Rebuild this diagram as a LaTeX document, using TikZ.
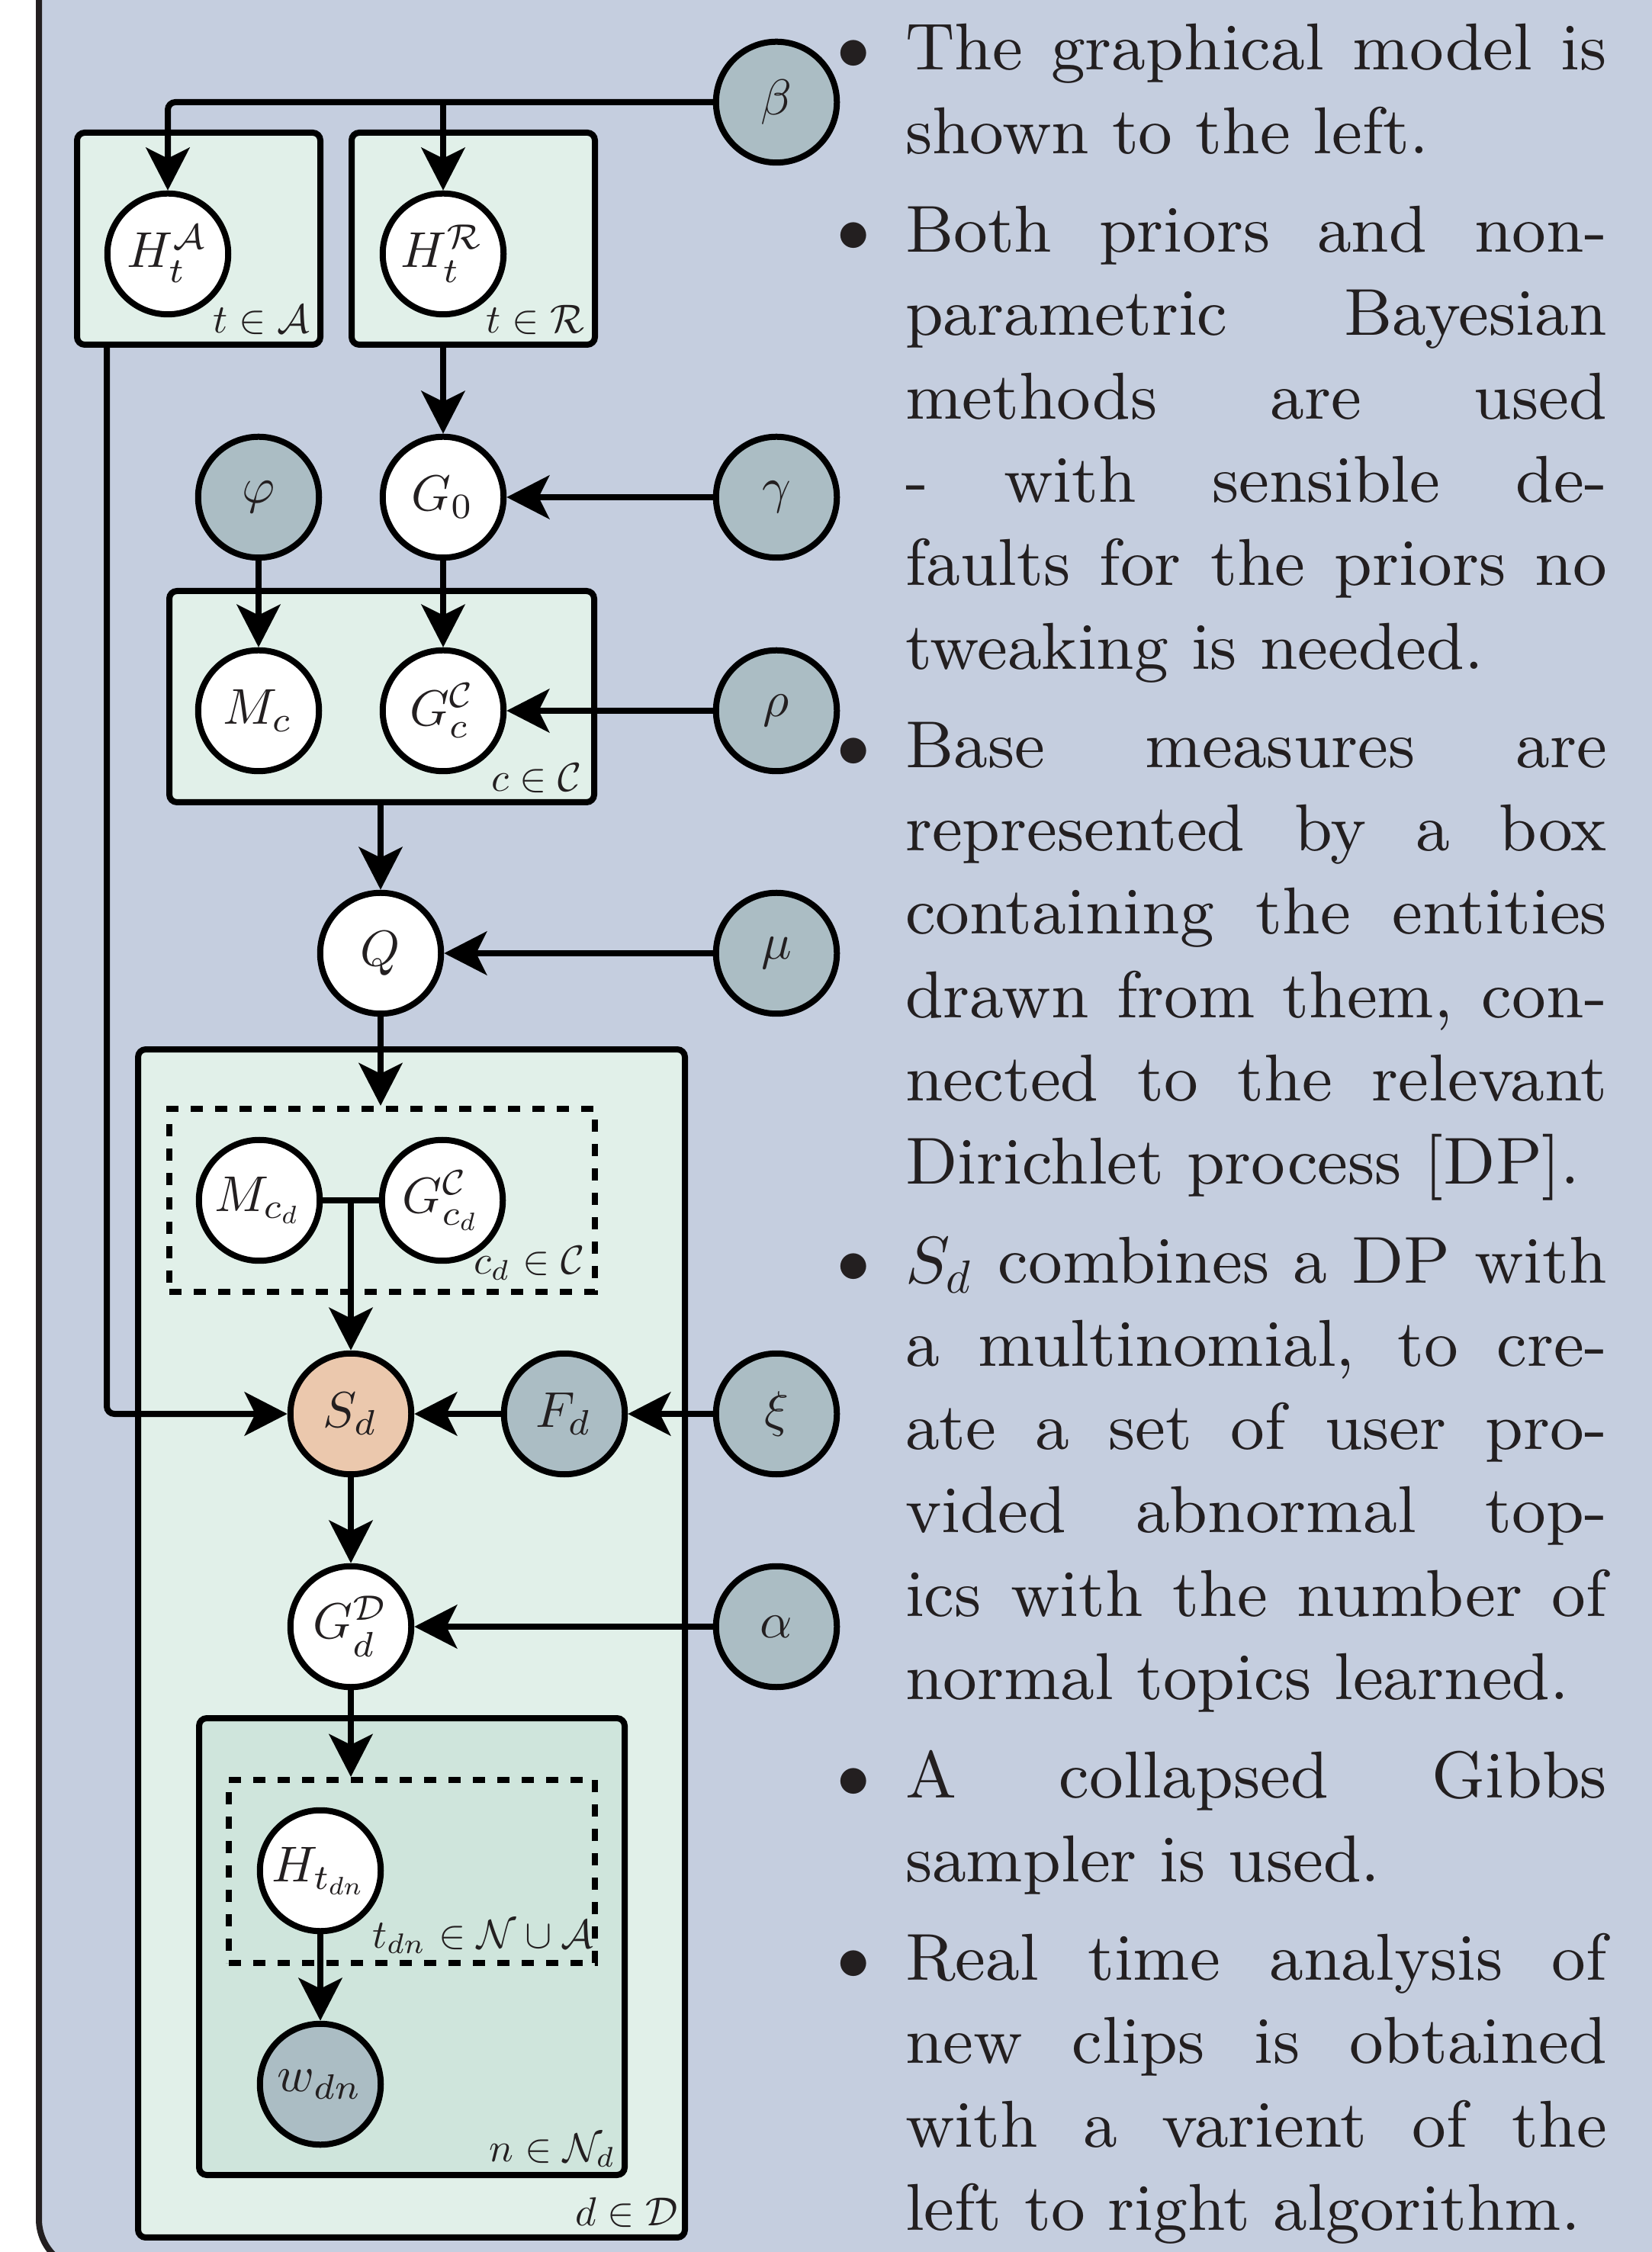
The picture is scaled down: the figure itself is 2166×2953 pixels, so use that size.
\documentclass[tikz,border=0pt]{standalone}
\usetikzlibrary{arrows.meta}

% scalable Computer Modern math shapes (thin designs for small sizes)
\DeclareFontShape{OML}{cmm}{m}{it}{<-5>cmmi7<5->cmmi10}{}
\DeclareFontShape{OMS}{cmsy}{m}{n}{<-5>cmsy7<5->cmsy10}{}
\DeclareFontShape{OT1}{cmr}{m}{n}{<-5>cmr7<5->cmr10}{}

\definecolor{panelbg}{HTML}{C5CEDF}
\definecolor{panelline}{HTML}{231F20}
\definecolor{ink}{HTML}{231F20}
\definecolor{platefill}{HTML}{E1F0E9}
\definecolor{innerfill}{HTML}{CFE5DC}
\definecolor{obsfill}{HTML}{ABBDC4}
\definecolor{keyfill}{HTML}{EBC8AD}

\tikzset{
  var/.style={circle, draw=black, line width=0.8pt, minimum size=15.85pt,
              inner sep=0pt, fill=white, text=ink,
              font=\fontsize{6.6}{7.9}\selectfont},
  obs/.style={var, fill=obsfill},
  keyvar/.style={var, fill=keyfill},
  plate/.style={draw=black, line width=0.8pt, rounded corners=1pt,
                inner sep=0pt, fill=platefill},
  dplate/.style={draw=black, line width=0.8pt, dash pattern=on 1.6pt off 1.6pt,
                 inner sep=0pt},
  platelabel/.style={anchor=base east, inner sep=0pt, text=ink,
                     font=\fontsize{5.3}{6.4}\selectfont},
  edge/.style={draw=black, line width=0.8pt},
  arr/.style={edge, -{Stealth[length=5.6pt, width=5.7pt, inset=1.4pt]}},
}

\begin{document}
\begin{tikzpicture}[x=0.1pt, y=-0.1pt]
\useasboundingbox (0,0) rectangle (2166,2953);
\fill[white] (0,0) rectangle (2166,2953);

\begin{scope}
\clip (0,0) rectangle (2166,2953);
% panel background
\draw[fill=panelbg, draw=panelline, line width=0.8pt, rounded corners=6.6pt]
  (51,-100) rectangle (2300,2976);

% plates
\node[plate, minimum width=31.9pt, minimum height=27.8pt] (pA) at (260.5,313) {};
\node[plate, minimum width=31.9pt, minimum height=27.8pt] (pR) at (620.5,313) {};
\node[plate, minimum width=55.7pt, minimum height=27.7pt] (pC) at (500.5,913.5) {};
\node[plate, minimum width=71.7pt, minimum height=155.8pt] (pD) at (539.5,2155) {};
\node[plate, fill=innerfill, minimum width=55.8pt, minimum height=59.9pt] (pN) at (540,2552.5) {};
\node[dplate, minimum width=55.8pt, minimum height=24pt] (db1) at (501,1574) {};
\node[dplate, minimum width=48pt, minimum height=24pt] (db2) at (540,2454) {};

% plate labels
\node[platelabel] at (408,437) {$t\in\mathcal{A}$};
\node[platelabel] at (768,437) {$t\in\mathcal{R}$};
\node[platelabel] at (765,1038) {$c\in\mathcal{C}$};
\node[platelabel] at (769,1671) {$c_d\in\mathcal{C}$};
\node[platelabel] at (780,2554) {$t_{dn}\in\mathcal{N}\cup\mathcal{A}$};
\node[platelabel] at (811,2834) {$n\in\mathcal{N}_d$};
\node[platelabel] at (891,2918) {$d\in\mathcal{D}$};

% variables
\node[obs] (beta) at (1018,134) {$\beta$};
\node[var] (HA) at (220,333) {$H_t^{\mathcal{A}}$};
\node[var] (HR) at (581,333) {$H_t^{\mathcal{R}}$};
\node[obs] (phi) at (339,652) {$\varphi$};
\node[var] (G0) at (581,652) {$G_0$};
\node[obs] (gamma) at (1018,652) {$\gamma$};
\node[var] (Mc) at (339,932) {$M_c$};
\node[var] (Gc) at (581,932) {$G_c^{\mathcal{C}}$};
\node[obs] (rho) at (1018,932) {$\rho$};
\node[var] (Q) at (499,1250) {$Q$};
\node[obs] (mu) at (1018,1250) {$\mu$};
\node[var] (Mcd) at (340,1574) {$M_{c_d}$};
\node[var] (Gcd) at (580,1574) {$G_{c_d}^{\mathcal{C}}$};
\node[keyvar] (Sd) at (460,1854) {$S_d$};
\node[obs] (Fd) at (740,1854) {$F_d$};
\node[obs] (xi) at (1018,1854) {$\xi$};
\node[var] (Gd) at (460,2133) {$G_d^{\mathcal{D}}$};
\node[obs] (alpha) at (1018,2133) {$\alpha$};
\node[var] (Htdn) at (420,2453) {$H_{t_{dn}}$};
\node[obs] (wdn) at (420,2733) {$w_{dn}$};

% connectors
\coordinate (tapA) at (140,452);
\draw[arr, rounded corners=1pt] (beta.west) -| (HA.north);
\draw[arr] (HR |- beta.west) -- (HR.north);
\draw[arr] (G0 |- pR.south) -- (G0.north);
\draw[arr] (gamma.west) -- (G0.east);
\draw[arr] (phi.south) -- (Mc.north);
\draw[arr] (G0.south) -- (Gc.north);
\draw[arr] (rho.west) -- (Gc.east);
\draw[arr] (Q |- pC.south) -- (Q.north);
\draw[arr] (mu.west) -- (Q.east);
\draw[arr] (Q.south) -- (Q |- db1.north);
\draw[edge] (Mcd.east) -- (Gcd.west);
\draw[arr] (Sd |- Mcd.east) -- (Sd.north);
\draw[arr, rounded corners=1pt] (tapA) |- (Sd.west);
\draw[arr] (Fd.west) -- (Sd.east);
\draw[arr] (xi.west) -- (Fd.east);
\draw[arr] (Sd.south) -- (Gd.north);
\draw[arr] (alpha.west) -- (Gd.east);
\draw[arr] (Gd.south) -- (Gd |- db2.north);
\draw[arr] (Htdn.south) -- (wdn.north);

% summary text
\node[anchor=base west, inner sep=0pt, text=ink] (summary) at (1185,92) {%
\begin{minipage}[t]{92pt}
\fontsize{8.7}{10.93}\selectfont
\renewcommand{\labelitemi}{$\bullet$}%
\setlength{\leftmargini}{0pt}\setlength{\labelsep}{4.6pt}%
\hyphenpenalty=10000 \tolerance=10000 \hbadness=10000
\begin{itemize}\setlength{\itemsep}{2pt}\setlength{\parsep}{0pt}\setlength{\parskip}{0pt}
\item The graphical model is\linebreak shown to the left.
\item Both priors and non-\linebreak parametric Bayesian\linebreak methods are used\linebreak - with sensible de-\linebreak faults for the priors no\linebreak tweaking is needed.
\item Base measures are\linebreak represented by a box\linebreak containing the entities\linebreak drawn from them, con-\linebreak nected to the relevant\linebreak Dirichlet process [DP].
\item $S_d$ combines a DP with\linebreak a multinomial, to cre-\linebreak ate a set of user pro-\linebreak vided abnormal top-\linebreak ics with the number of\linebreak normal topics learned.
\item A collapsed Gibbs\linebreak sampler is used.
\item Real time analysis of\linebreak new clips is obtained\linebreak with a varient of the\linebreak left to right algorithm.
\end{itemize}
\end{minipage}};
\end{scope}
\end{tikzpicture}
\end{document}
